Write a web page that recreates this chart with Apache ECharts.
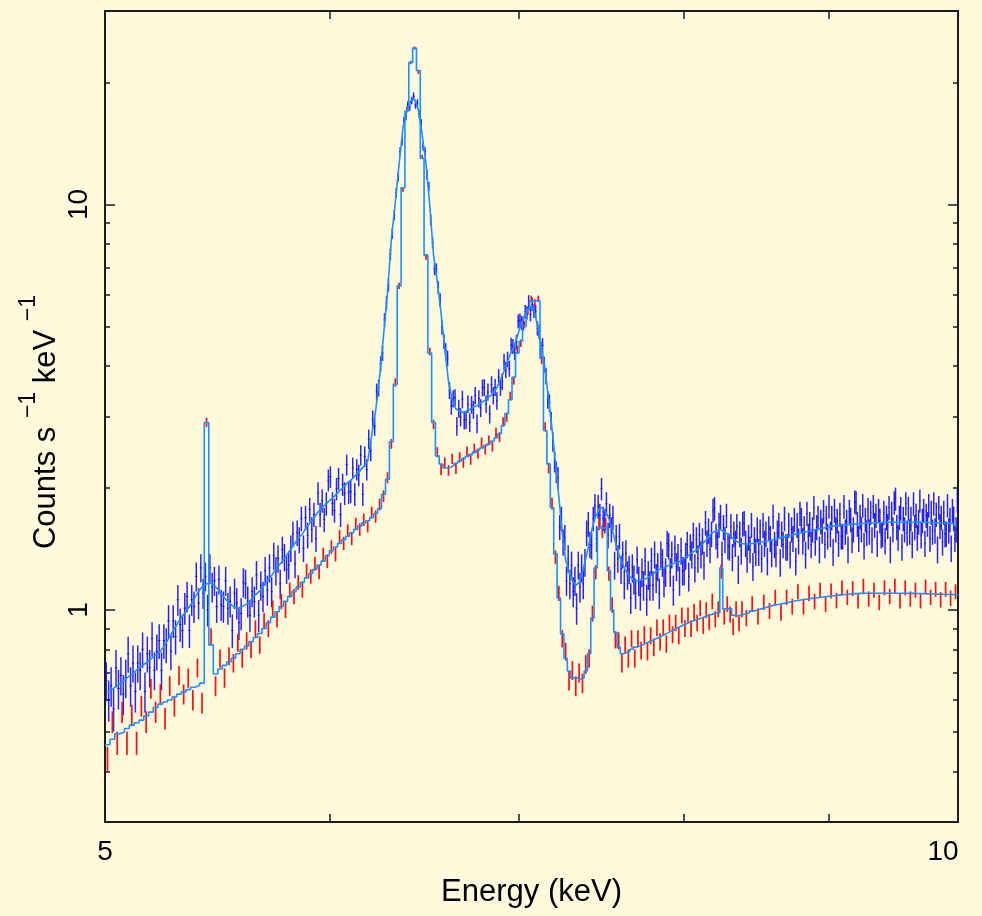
<!DOCTYPE html>
<html><head><meta charset="utf-8">
<script src="https://cdn.jsdelivr.net/npm/echarts@6/dist/echarts.min.js"></script>
<style>html,body{margin:0;padding:0;background:#fffadc}#c{width:982px;height:916px}</style>
</head><body><div id="c"></div>
<script>
// ---- Energy binning (keV) ----
const blueDataStart = 5.0, blueDataBin = 0.01;    // 500 channels
const blueModelStart = 5.0, blueModelBin = 0.02;  // 250 model points
const redLowStart = 5.0, redLowBin = 0.02, redLowCount = 170;
const redHighStart = 8.4, redHighBin = 0.04;      // 40 channels

// ---- Blue spectrum (counts s^-1 keV^-1), 0.01 keV channels ----
const blueData = [
0.67,0.60,0.65,0.57,0.72,0.64,0.69,0.62,0.68,0.78,
0.65,0.74,0.63,0.74,0.71,0.80,0.63,0.78,0.72,0.85,
0.71,0.79,0.84,0.71,0.84,0.82,0.94,0.79,0.94,0.86,
1.06,0.92,0.89,1.01,1.08,0.89,1.06,1.02,1.21,1.04,
1.27,1.10,1.21,1.00,1.27,1.14,1.18,1.02,1.19,1.03,
1.02,1.18,1.01,1.05,0.89,1.10,1.04,0.93,0.98,1.17,
1.16,1.05,0.97,1.11,1.05,1.22,0.97,1.15,1.08,1.25,
1.12,1.27,1.11,1.36,1.25,1.34,1.16,1.41,1.35,1.26,
1.29,1.42,1.54,1.30,1.55,1.49,1.68,1.42,1.69,1.53,
1.77,1.58,1.72,1.50,1.94,1.72,1.86,1.67,1.83,2.09,
2.13,1.83,1.76,1.99,2.11,1.72,2.04,1.94,2.28,1.95,
1.96,2.24,1.93,2.22,2.15,2.41,1.93,2.39,2.22,2.64,
2.47,2.95,2.84,3.45,3.53,4.04,4.30,5.19,5.72,6.32,
7.54,8.50,9.41,10.7,11.7,13.5,14.3,16.1,16.5,17.6,
17.4,18.05,18.5,17.6,17.8,16.7,15.9,13.9,13.5,11.85,
11.06,9.16,8.05,6.94,6.92,6.24,5.82,4.98,4.60,4.36,
4.17,3.48,3.19,3.32,3.34,2.84,3.14,2.99,3.31,2.94,
2.95,3.22,2.90,3.21,3.12,3.38,2.88,3.32,3.15,3.53,
3.54,3.22,3.45,3.04,3.60,3.38,3.54,3.28,3.75,3.54,
3.66,4.10,3.91,4.15,3.94,4.50,4.47,4.32,4.58,5.15,
5.18,5.11,5.09,5.44,5.41,5.76,5.36,5.67,5.46,5.45,
4.95,4.86,4.39,4.49,4.03,3.78,3.30,3.24,2.93,2.60,
2.32,2.19,2.12,1.60,1.68,1.47,1.51,1.18,1.34,1.16,
1.29,1.11,1.18,1.01,1.29,1.14,1.27,1.16,1.31,1.55,
1.63,1.45,1.44,1.68,1.81,1.50,1.80,1.71,1.99,1.68,
1.66,1.83,1.53,1.71,1.58,1.69,1.29,1.51,1.34,1.52,
1.26,1.37,1.16,1.38,1.22,1.26,1.07,1.27,1.19,1.10,
1.33,1.18,1.09,1.24,1.15,1.32,1.06,1.22,1.15,1.32,
1.15,1.37,1.20,1.28,1.10,1.37,1.31,1.17,1.24,1.46,
1.44,1.24,1.37,1.12,1.42,1.28,1.35,1.18,1.40,1.25,
1.25,1.36,1.45,1.21,1.43,1.37,1.53,1.27,1.49,1.34,
1.53,1.37,1.48,1.29,1.64,1.46,1.57,1.41,1.54,1.76,
1.78,1.52,1.45,1.62,1.70,1.37,1.60,1.49,1.71,1.44,
1.43,1.61,1.35,1.54,1.46,1.61,1.26,1.54,1.40,1.63,
1.64,1.46,1.34,1.51,1.41,1.62,1.28,1.49,1.39,1.58,
1.39,1.56,1.34,1.62,1.46,1.54,1.32,1.59,1.50,1.38,
1.70,1.45,1.38,1.55,1.62,1.31,1.54,1.45,1.68,1.43,
1.43,1.62,1.37,1.58,1.50,1.67,1.32,1.62,1.48,1.73,
1.67,1.48,1.59,1.37,1.73,1.52,1.63,1.45,1.58,1.79,
1.47,1.60,1.69,1.41,1.65,1.57,1.75,1.45,1.69,1.52,
1.80,1.54,1.69,1.39,1.76,1.58,1.66,1.46,1.72,1.52,
1.52,1.80,1.56,1.65,1.41,1.75,1.67,1.49,1.58,1.85,
1.84,1.63,1.50,1.70,1.58,1.81,1.44,1.67,1.55,1.77,
1.56,1.74,1.49,1.80,1.62,1.71,1.46,1.76,1.66,1.53,
1.54,1.74,1.48,1.69,1.61,1.79,1.41,1.73,1.58,1.84,
1.88,1.60,1.51,1.69,1.78,1.43,1.68,1.58,1.83,1.55,
1.78,1.56,1.68,1.45,1.83,1.60,1.71,1.51,1.65,1.86,
1.53,1.66,1.76,1.46,1.71,1.63,1.81,1.50,1.74,1.56,
1.83,1.57,1.72,1.41,1.79,1.61,1.69,1.47,1.74,1.54,
1.54,1.81,1.57,1.67,1.42,1.76,1.68,1.50,1.58,1.86
];
// ---- Blue model, 0.02 keV grid ----
const blueModel = [
0.626,0.638,0.651,0.664,0.680,0.695,0.711,0.726,0.741,0.757,
0.774,0.790,0.82,0.86,0.90,0.939,0.975,1.01,1.05,1.10,
1.14,1.16,1.165,1.14,1.11,1.07,1.04,1.02,1.01,1.02,
1.035,1.06,1.09,1.114,1.15,1.19,1.227,1.27,1.31,1.35,
1.40,1.45,1.50,1.54,1.60,1.65,1.70,1.756,1.80,1.84,
1.88,1.92,1.967,2.01,2.06,2.10,2.15,2.20,2.26,2.33,
2.70,3.10,3.75,4.75,6.05,8.2,10.1,12.6,15.5,17.0,
18.0,18.2,17.1,14.9,12.6,9.95,7.5,6.45,5.4,4.4,
3.65,3.3,3.13,3.09,3.07,3.09,3.13,3.17,3.20,3.25,
3.29,3.35,3.41,3.50,3.65,3.83,4.05,4.27,4.45,4.73,
5.03,5.30,5.50,5.62,5.40,4.90,4.45,3.90,3.30,2.80,
2.30,1.90,1.55,1.33,1.24,1.18,1.15,1.17,1.24,1.34,
1.46,1.60,1.70,1.77,1.79,1.75,1.68,1.58,1.47,1.38,
1.31,1.26,1.22,1.20,1.18,1.18,1.185,1.19,1.20,1.215,
1.23,1.25,1.26,1.27,1.28,1.29,1.30,1.305,1.31,1.33,
1.345,1.36,1.38,1.395,1.41,1.43,1.46,1.49,1.52,1.55,
1.565,1.575,1.575,1.56,1.54,1.52,1.50,1.48,1.465,1.458,
1.455,1.455,1.457,1.46,1.465,1.47,1.473,1.477,1.48,1.486,
1.492,1.498,1.504,1.51,1.516,1.522,1.528,1.534,1.540,1.546,
1.552,1.557,1.562,1.568,1.573,1.578,1.583,1.588,1.594,1.600,
1.605,1.610,1.613,1.616,1.618,1.620,1.622,1.624,1.626,1.628,
1.630,1.632,1.634,1.636,1.637,1.638,1.639,1.640,1.641,1.641,
1.642,1.645,1.645,1.645,1.645,1.645,1.645,1.645,1.645,1.645,
1.645,1.645,1.646,1.647,1.647,1.646,1.645,1.644,1.643,1.642,
1.641,1.640,1.639,1.638,1.637,1.636,1.635,1.634,1.632,1.630
];

// ---- Red spectrum ----
const redData = [
0.43,0.53,0.47,0.56,0.47,0.55,0.47,0.58,0.53,0.64,
0.56,0.62,0.54,0.65,0.58,0.69,0.62,0.68,0.60,0.72,
0.59,2.9,0.86,0.65,0.76,0.68,0.77,0.74,0.83,0.76,
0.84,0.80,0.90,0.82,0.94,0.90,1.01,0.95,1.05,1.00,
1.12,1.08,1.17,1.12,1.25,1.21,1.30,1.24,1.37,1.32,
1.43,1.37,1.52,1.46,1.57,1.50,1.63,1.58,1.67,1.61,
1.74,1.70,1.82,1.91,2.12,2.57,3.64,6.3,10.9,17.2,
22.4,24.3,21.2,13.1,7.43,4.34,2.87,2.45,2.22,2.31,
2.21,2.36,2.23,2.38,2.31,2.46,2.35,2.50,2.43,2.59,
2.49,2.62,2.53,2.74,2.67,2.91,2.99,3.37,3.68,4.39,
4.55,5.05,5.45,5.85,5.73,5.85,4.13,2.83,2.24,1.83,
1.35,1.10,0.85,0.79,0.67,0.71,0.65,0.70,0.66,0.735,
0.76,0.98,1.24,1.63,1.56,1.63,1.23,1.03,0.845,0.84,
0.74,0.82,0.76,0.85,0.76,0.85,0.795,0.87,0.79,0.865,
0.81,0.905,0.835,0.905,0.825,0.93,0.87,0.93,0.865,0.97,
0.90,0.97,0.90,0.99,0.93,1.01,0.915,1.00,0.935,1.05,
0.95,1.005,1.245,0.965,1.035,0.975,0.91,1.005,0.93,1.005,
0.955,1.035,0.965,1.045,0.995,1.075,0.985,1.075,1.02,1.11,
1.02,1.10,1.05,1.12,1.035,1.115,1.055,1.135,1.075,1.13,
1.055,1.145,1.065,1.12,1.045,1.135,1.08,1.145,1.055,1.135,
1.065,1.12,1.055,1.14,1.075,1.125,1.06,1.125,1.07,1.11
];
const redModel = [
0.465,0.48,0.495,0.50,0.51,0.52,0.527,0.535,0.548,0.56,
0.575,0.586,0.593,0.60,0.61,0.62,0.628,0.636,0.645,0.652,
0.66,2.9,0.82,0.695,0.715,0.73,0.745,0.76,0.78,0.80,
0.815,0.835,0.855,0.875,0.90,0.93,0.96,0.99,1.02,1.05,
1.08,1.11,1.14,1.17,1.20,1.23,1.26,1.29,1.32,1.36,
1.40,1.43,1.46,1.49,1.52,1.55,1.58,1.61,1.64,1.66,
1.69,1.73,1.78,1.93,2.1,2.6,3.6,6.3,11.0,17.0,
22.4,24.3,21.4,13.0,7.5,4.3,2.9,2.4,2.29,2.24,
2.25,2.27,2.30,2.33,2.36,2.39,2.42,2.45,2.48,2.51,
2.54,2.57,2.61,2.66,2.72,2.85,3.05,3.3,3.75,4.3,
4.6,5.0,5.5,5.79,5.79,5.79,4.17,2.77,2.29,1.79,
1.375,1.07,0.873,0.76,0.707,0.68,0.68,0.676,0.68,0.707,
0.78,0.955,1.27,1.594,1.594,1.594,1.25,1.0,0.88,0.81,
0.78,0.785,0.79,0.80,0.81,0.815,0.82,0.828,0.835,0.84,
0.848,0.855,0.862,0.87,0.878,0.887,0.895,0.903,0.91,0.918,
0.925,0.932,0.938,0.944,0.95,0.956,0.962,0.968,0.973,0.978,
0.982,0.985,1.27,1.006,1.006,1.006,0.97,0.966,0.97,0.975,
0.983,0.995,1.005,1.015,1.025,1.032,1.038,1.045,1.052,1.058,
1.063,1.068,1.072,1.076,1.08,1.084,1.088,1.092,1.095,1.097,
1.099,1.10,1.10,1.10,1.10,1.10,1.10,1.10,1.10,1.10,
1.099,1.098,1.097,1.096,1.095,1.094,1.093,1.092,1.091,1.09
];

// ---- Axis ticks / labels ----
const xLabelValues = [5, 10];
const xTickValues = [6, 7, 8, 9];
const yLabelValues = [1, 10];
const yMajorTicks = [1, 10];
const yMinorTicks = [0.3,0.4,0.5,0.6,0.7,0.8,0.9,2,3,4,5,6,7,8,9,20,30];
const yTitleParts = [['Counts s ', false], ['\u22121', true], [' keV ', false], ['\u22121', true]];

// Poisson-style error scale per spectrum
const blueErrScale = 0.09, redErrScale = 0.045;

function blueDataEdges(i){ const lo = blueDataStart + i*blueDataBin; return [lo, lo + blueDataBin]; }
function redBinEdges(i){
  if (i < redLowCount) { const lo = redLowStart + i*redLowBin; return [lo, lo + redLowBin]; }
  const lo = redHighStart + (i - redLowCount)*redHighBin; return [lo, lo + redHighBin];
}

const blueErrData = blueData.map((v,i)=>{ const e = blueDataEdges(i); return [e[0], e[1], v, blueErrScale*Math.sqrt(v)]; });
const redErrData = redData.map((v,i)=>{ const e = redBinEdges(i); return [e[0], e[1], v, redErrScale*Math.sqrt(v)]; });
const blueModelLine = blueModel.map((v,i)=> [blueModelStart + (i+0.5)*blueModelBin, v]);
const redModelStep = [];
redModel.forEach((v,i)=>{ const e = redBinEdges(i); redModelStep.push([e[0], v], [e[1], v]); });

function errRender(color, w, hColor, hw){
  return function(params, api){
    const lo = api.value(0), hi = api.value(1), v = api.value(2), e = api.value(3);
    const c = (lo+hi)/2;
    const t = api.coord([c, v+e]), b = api.coord([c, v-e]);
    const children = [
      {type:'line', shape:{x1:t[0],y1:t[1],x2:b[0],y2:b[1]}, style:{stroke:color, lineWidth:w}}
    ];
    if (hw > 0) {
      const l = api.coord([lo, v]), r = api.coord([hi, v]);
      children.push({type:'line', shape:{x1:l[0],y1:l[1],x2:r[0],y2:r[1]}, style:{stroke:hColor, lineWidth:hw}});
    }
    return {type:'group', children};
  };
}

const FONT = "'Liberation Sans', Arial, Helvetica, sans-serif";
const INK = '#1c1c1c';
const TITLE_SIZE = 31, SUP_SIZE = 23, SUP_SHIFT = 17;

// y-axis title built from real text pieces (superscripts raised)
const measureCtx = document.createElement('canvas').getContext('2d');
function textWidth(t, size){ measureCtx.font = size + 'px ' + FONT; return measureCtx.measureText(t).width; }
const yTitleWidths = yTitleParts.map(p => textWidth(p[0], p[1] ? SUP_SIZE : TITLE_SIZE));
const yTitleTotal = yTitleWidths.reduce((a,b)=>a+b, 0);
let cursor = -yTitleTotal/2;
const yTitleChildren = yTitleParts.map((p,i)=>{
  const el = {type:'text', x:cursor, y: p[1] ? -SUP_SHIFT : 0,
    style:{text:p[0], font:(p[1]?SUP_SIZE:TITLE_SIZE)+'px '+FONT, fill:'#000',
      textAlign:'left', textVerticalAlign:'middle', align:'left', verticalAlign:'middle'}};
  cursor += yTitleWidths[i];
  return el;
});

function yAxisDef(pos, ticks, len, showLabels){
  return {
    type:'log', logBase:10, min:0.3, max:30, position:pos,
    axisLine:{show:false},
    axisTick:{show:true, inside:true, length:len, customValues:ticks, lineStyle:{color:INK, width:1.5}},
    axisLabel:{show:showLabels, customValues:yLabelValues, rotate:90, margin:12,
      fontSize:28, fontFamily:FONT, color:'#000'},
    splitLine:{show:false}, minorTick:{show:false}, minorSplitLine:{show:false}
  };
}
function xAxisDef(pos, showLabels, withName){
  const ax = {
    type:'log', logBase:10, min:5, max:10, position:pos,
    axisLine:{show:false},
    axisTick:{show:true, inside:true, length:8, customValues:xTickValues, lineStyle:{color:INK, width:1.5}},
    axisLabel:{show:showLabels, customValues:xLabelValues, margin:16, fontSize:28, fontFamily:FONT, color:'#000',
      formatter: v => (Math.abs(v-10)<1e-6 ? '{r|10}' : '{c|' + v + '}'),
      rich:{ r:{fontSize:28, fontFamily:FONT, color:'#000', padding:[0,30,0,0]}, c:{fontSize:28, fontFamily:FONT, color:'#000'} }},
    splitLine:{show:false}, minorTick:{show:false}, minorSplitLine:{show:false}
  };
  if (withName){
    ax.name = 'Energy (keV)';
    ax.nameLocation = 'middle';
    ax.nameGap = 55;
    ax.nameTextStyle = {fontSize:31, fontFamily:FONT, color:'#000'};
  }
  return ax;
}

const chart = echarts.init(document.getElementById('c'), null, {renderer:'canvas'});
chart.setOption({
  backgroundColor:'#fffadc',
  animation:false,
  grid:{left:105, right:24, top:11, bottom:94, show:true, borderColor:INK, borderWidth:2, backgroundColor:'transparent'},
  xAxis:[ xAxisDef('bottom', true, true), xAxisDef('top', false, false) ],
  yAxis:[ yAxisDef('left', yMajorTicks, 10, true), yAxisDef('left', yMinorTicks, 5, false),
          yAxisDef('right', yMajorTicks, 10, false), yAxisDef('right', yMinorTicks, 5, false) ],
  graphic:[{type:'group', x:46, y:422, rotation:Math.PI/2, children:yTitleChildren}],
  series:[
    {type:'custom', name:'blue data', xAxisIndex:0, yAxisIndex:0, clip:true,
     renderItem:errRender('rgba(0,0,255,0.85)', 1.5, 'rgba(0,0,255,0.85)', 1),
     encode:{x:[0,1], y:2}, data:blueErrData, z:2},
    {type:'custom', name:'red data', xAxisIndex:0, yAxisIndex:0, clip:true,
     renderItem:errRender('#ff1010', 1.7, '#ff1010', 0),
     encode:{x:[0,1], y:2}, data:redErrData, z:3},
    {type:'line', name:'blue model', xAxisIndex:0, yAxisIndex:0, data:blueModelLine, showSymbol:false, symbol:'none',
     lineStyle:{color:'#1e8fff', width:1.6}, z:4},
    {type:'line', name:'red model', xAxisIndex:0, yAxisIndex:0, data:redModelStep, showSymbol:false, symbol:'none',
     lineStyle:{color:'#1e8fff', width:1.6}, z:5}
  ]
});
</script>
</body></html>
